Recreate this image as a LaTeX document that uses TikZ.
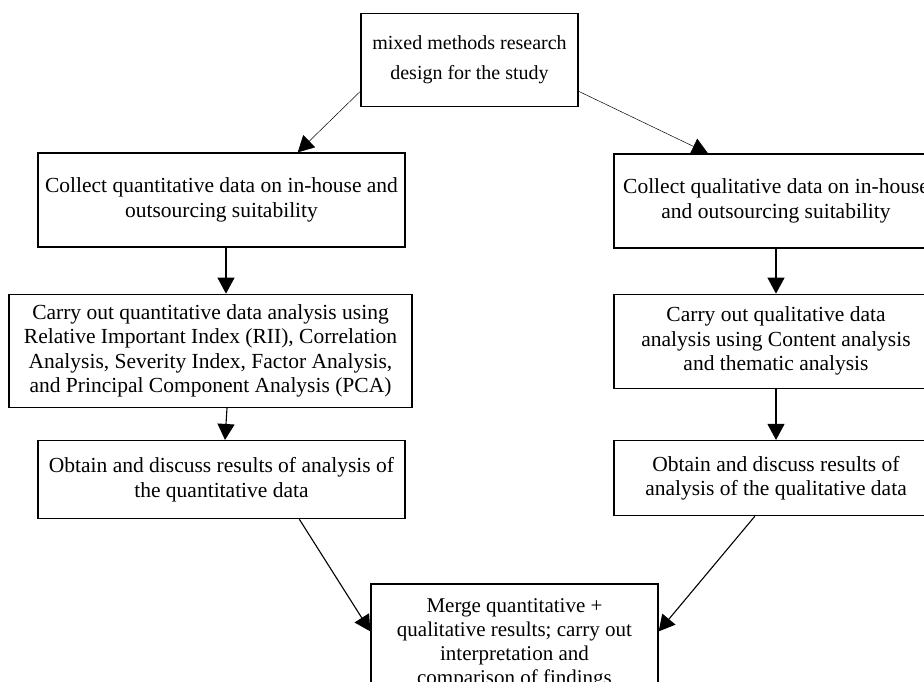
\documentclass[tikz,border=0pt]{standalone}
\usepackage{fontspec}
\setmainfont{Liberation Serif}
\usetikzlibrary{arrows.meta, positioning}

\begin{document}
\begin{tikzpicture}
  [x = 1pt, y = -1pt,
  % box
  box/.style = {rectangle,
    draw, line width = 1.3pt,
    align = center, inner sep = 0pt,
    font = \fontsize{21.5}{24.5}\selectfont},
  % line
  line/.style = {draw, line width = 1.1pt, -{Triangle[length=16pt, width=17pt]}},
  thinline/.style = {line, line width = 0.5pt},
  ]

  \useasboundingbox (0,0) rectangle (924,682);
  \clip (0,0) rectangle (924,682);

  % nodes
  \node [box, minimum width = 217pt, minimum height = 93pt,
    font = \fontsize{20}{30}\selectfont] (design) at (469.5,60)
    {mixed methods research\\design for the study};

  \node [box, minimum width = 367pt, minimum height = 94pt] (qnCollect) at (221.5,200)
    {Collect quantitative data on in-house and\\outsourcing suitability};
  \node [box, below = 46pt of qnCollect, xshift = -11pt,
    minimum width = 403pt, minimum height = 113pt] (qnAnalysis)
    {Carry out quantitative data analysis using\\Relative Important Index (RII), Correlation\\Analysis, Severity Index, Factor Analysis,\\and Principal Component Analysis (PCA)};
  \node [box, below = 32pt of qnAnalysis, xshift = 11pt,
    minimum width = 367pt, minimum height = 78pt] (qnResults)
    {Obtain and discuss results of analysis of\\the quantitative data};

  \node [box, minimum width = 324pt, minimum height = 94pt] (qlCollect) at (776,201)
    {Collect qualitative data on in-house\\and outsourcing suitability};
  \node [box, below = 45pt of qlCollect,
    minimum width = 324pt, minimum height = 94pt] (qlAnalysis)
    {Carry out qualitative data\\analysis using Content analysis\\and thematic analysis};
  \node [box, below = 51pt of qlAnalysis,
    minimum width = 324pt, minimum height = 75pt] (qlResults)
    {Obtain and discuss results of\\analysis of the qualitative data};

  \node [box, minimum width = 287pt, minimum height = 120pt,
    font = \fontsize{21}{24}\selectfont] (merge) at (514.5,644)
    {Merge quantitative +\\qualitative results; carry out\\interpretation and\\comparison of findings};

  % path
  \path [thinline] (design.196) -- (qnCollect.32);
  \path [thinline] (design.344) -- (qlCollect.145);
  \path [line] ([xshift=4.5pt]qnCollect.south) -- ([xshift=15.5pt]qnAnalysis.north);
  \path [line] ([xshift=16.5pt]qnAnalysis.south) -- ([xshift=3.5pt]qnResults.north);
  \path [line] (qlCollect) -- (qlAnalysis);
  \path [line] (qlAnalysis) -- (qlResults);
  \path [line] (qnResults.333) -- (merge.175);
  \path [line] (qlResults.241) -- (merge.5);

\end{tikzpicture}
\end{document}
